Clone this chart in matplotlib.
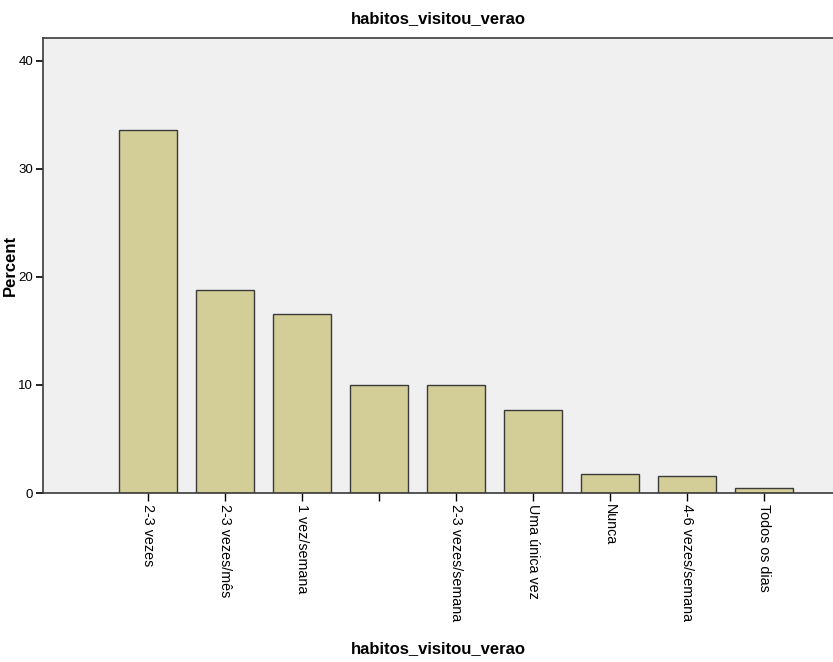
import matplotlib
matplotlib.use('Agg')
import matplotlib.pyplot as plt

plt.rcParams['font.family'] = ['Liberation Sans', 'DejaVu Sans']

categories = ['2-3 vezes', '2-3 vezes/mês', '1 vez/semana', '', '2-3 vezes/semana',
              'Uma única vez', 'Nunca', '4-6 vezes/semana', 'Todos os dias']
percent = [33.6, 18.8, 16.6, 10.0, 10.0, 7.7, 1.8, 1.6, 0.45]
y_ticks = [0, 10, 20, 30, 40]

fig = plt.figure(figsize=(8.33, 6.62), dpi=100)
ax = fig.add_axes([43 / 833, 169 / 662, 1 - 43 / 833, (493 - 38) / 662])
ax.set_facecolor('#f0f0f0')

x = list(range(len(categories)))
ax.bar(x, percent, width=0.75, color='#d3ce97', edgecolor='#3a3a3a', linewidth=1.0)

ax.set_xlim(-1.36, 8.9)
ax.set_ylim(0, 42.1)
ax.set_yticks(y_ticks)
ax.set_xticks(x)
ax.set_xticklabels(categories, rotation=-90, ha='center', va='top', fontsize=10.3)
ax.tick_params(axis='y', labelsize=9.5, length=5, width=1.2, direction='out', pad=2)
ax.tick_params(axis='x', length=6, width=1.0, direction='out', pad=2)

ax.spines['right'].set_visible(False)
for s in ['left', 'top', 'bottom']:
    ax.spines[s].set_color('#3a3a3a')
    ax.spines[s].set_linewidth(1.2)

ax.set_title('habitos_visitou_verao', fontsize=12, fontweight='bold', pad=11)
ax.set_ylabel('Percent', fontsize=12, fontweight='bold')
ax.yaxis.set_label_coords((18 - 43) / 790, 0.5)
ax.set_xlabel('habitos_visitou_verao', fontsize=12, fontweight='bold')
ax.xaxis.set_label_coords(0.5, -(641 - 493) / 455)

fig.savefig('out.png', dpi=100, facecolor='white')
